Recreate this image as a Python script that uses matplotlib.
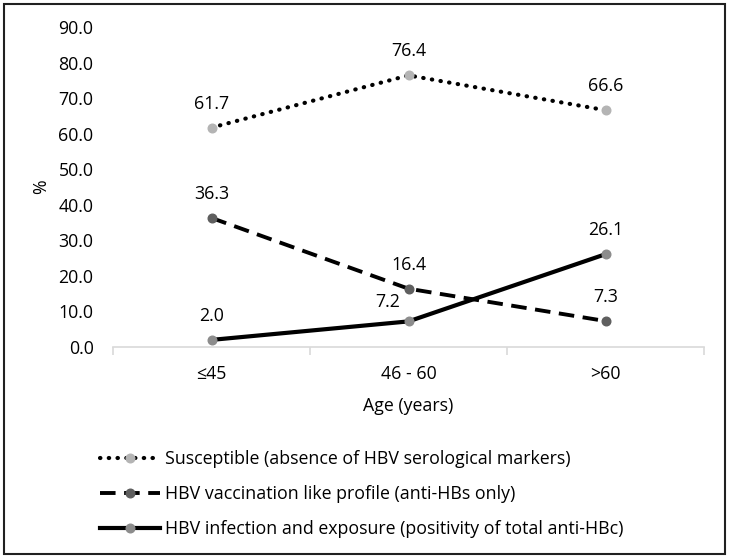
import matplotlib
matplotlib.use("Agg")
import matplotlib.pyplot as plt
from matplotlib.patches import Rectangle

categories = ["≤45", "46 - 60", ">60"]
susceptible = [61.7, 76.4, 66.6]
vaccination = [36.3, 16.4, 7.3]
infection = [2.0, 7.2, 26.1]
labels = ["Susceptible (absence of HBV serological markers)",
          "HBV vaccination like profile (anti-HBs only)",
          "HBV infection and exposure (positivity of total anti-HBc)"]
yticks = [0, 10, 20, 30, 40, 50, 60, 70, 80, 90]

plt.rcParams['font.family'] = ['Open Sans', 'DejaVu Sans']
FS = 12.8

fig = plt.figure(figsize=(7.29, 5.59), dpi=100)
ax = fig.add_axes([113/729, 1-347/559, 591/729, 320/559])

x = list(range(len(categories)))
s1, = ax.plot(x, susceptible, color='black', lw=3.0, linestyle=(0, (0.1, 2.0)),
              dash_capstyle='round', marker='o', ms=6.2, mfc='#b4b4b4', mec='#b4b4b4')
s2, = ax.plot(x, vaccination, color='black', lw=2.8, linestyle=(0, (4, 2.2)),
              marker='o', ms=6.2, mfc='#5f5f5f', mec='#5f5f5f')
s3, = ax.plot(x, infection, color='black', lw=3.0, linestyle='-',
              marker='o', ms=6.2, mfc='#8c8c8c', mec='#8c8c8c')

for series in (susceptible, vaccination, infection):
    for i, v in enumerate(series):
        dx, dy = 0, 24
        if series is infection and i == 1:
            dx, dy = -21, 19
        ax.annotate(f"{v:.1f}", (i, v), xytext=(dx, dy), textcoords='offset pixels',
                    ha='center', va='center', fontsize=FS)

ax.set_xlim(-0.5, 2.5)
ax.set_ylim(0, 90)
ax.set_yticks(yticks)
ax.set_yticklabels([f"{t:.1f}" for t in yticks], fontsize=FS)
ax.set_xticks(x)
ax.set_xticklabels(categories, fontsize=FS)
ax.tick_params(axis='x', which='major', length=0, pad=13)
ax.set_xticks([-0.5, 0.5, 1.5, 2.5], minor=True)
ax.tick_params(axis='x', which='minor', length=6, color='#d9d9d9', width=1.2)
ax.tick_params(axis='y', length=0, pad=14)
for sp in ['top', 'right', 'left']:
    ax.spines[sp].set_visible(False)
ax.spines['bottom'].set_color('#d9d9d9')
ax.spines['bottom'].set_linewidth(1.2)

ax.set_xlabel("Age (years)", fontsize=FS, labelpad=10)
ax.set_ylabel("%", fontsize=FS, labelpad=6)

leg = fig.legend([s1, s2, s3], labels, loc='upper left',
                 bbox_to_anchor=(84/729, 1-434/559), frameon=False, fontsize=FS,
                 handlelength=3.4, handletextpad=0.25, labelspacing=0.95)

fig.patches.append(Rectangle((4/729, 5/559), 721/729, 550/559, transform=fig.transFigure,
                             fill=False, edgecolor='#202020', lw=1.5))

fig.savefig("out.png", dpi=100)
